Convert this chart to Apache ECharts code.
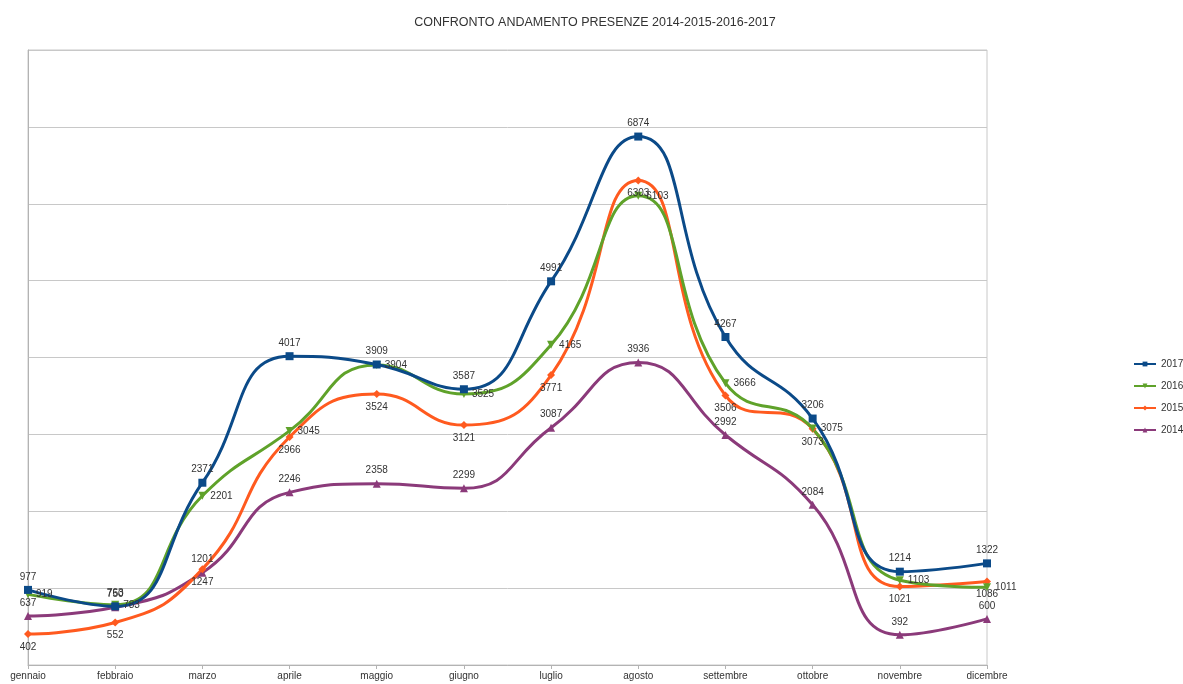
<!DOCTYPE html>
<html>
<head>
<meta charset="utf-8">
<title>Confronto andamento presenze</title>
<script src="https://cdn.jsdelivr.net/npm/echarts@6/dist/echarts.min.js"></script>
<style>
html, body { margin: 0; padding: 0; background: #fff; }
#chart { width: 1183px; height: 684px; }
</style>
</head>
<body>
<div id="chart"></div>
<script>
var mesi = ['gennaio', 'febbraio', 'marzo', 'aprile', 'maggio', 'giugno', 'luglio', 'agosto', 'settembre', 'ottobre', 'novembre', 'dicembre'];

var dati2017 = [977, 763, 2371, 4017, 3909, 3587, 4991, 6874, 4267, 3206, 1214, 1322];
var dati2016 = [919, 783, 2201, 3045, 3904, 3525, 4165, 6103, 3666, 3075, 1103, 1011];
var dati2015 = [402, 552, 1247, 2966, 3524, 3121, 3771, 6303, 3506, 3073, 1021, 1086];
var dati2014 = [637, 750, 1201, 2246, 2358, 2299, 3087, 3936, 2992, 2084, 392, 600];

var anni = ['2017', '2016', '2015', '2014'];

function serie(nome, dati, colore, simbolo, posLabel, rotazione) {
	return {
		name: nome,
		type: 'line',
		data: dati,
		smooth: 0.5,
		symbol: simbolo,
		symbolSize: 8,
		symbolRotate: rotazione || 0,
		lineStyle: { width: 3, color: colore },
		itemStyle: { color: colore },
		label: {
			show: true,
			position: posLabel,
			distance: 4,
			color: '#333',
			fontSize: 10,
			fontFamily: 'Liberation Sans'
		}
	};
}

var option = {
	animation: false,
	backgroundColor: '#fff',
	title: {
		text: 'CONFRONTO ANDAMENTO PRESENZE 2014-2015-2016-2017',
		left: 590,
		textAlign: 'center',
		top: 11,
		textStyle: { fontSize: 12.5, fontWeight: 'normal', color: '#333', fontFamily: 'Liberation Sans' }
	},
	legend: {
		data: anni,
		orient: 'vertical',
		left: 1128,
		top: 354,
		itemGap: 12,
		itemWidth: 22,
		itemHeight: 6,
		textStyle: { fontSize: 10, color: '#333', fontFamily: 'Liberation Sans' }
	},
	grid: {
		left: 28,
		right: 196,
		top: 50,
		bottom: 19,
		show: true,
		borderColor: '#c8c8c8',
		borderWidth: 1
	},
	xAxis: {
		type: 'category',
		data: mesi,
		boundaryGap: false,
		axisLine: { lineStyle: { color: '#b3b3b3' } },
		axisTick: { show: true, length: 4, lineStyle: { color: '#b3b3b3' } },
		axisLabel: { color: '#333', fontSize: 10, margin: 6, fontFamily: 'Liberation Sans' }
	},
	yAxis: {
		type: 'value',
		min: 0,
		max: 8000,
		interval: 1000,
		axisLabel: { show: false },
		axisLine: { show: true, lineStyle: { color: '#b3b3b3' } },
		axisTick: { show: false },
		splitLine: { lineStyle: { color: '#c8c8c8' } }
	},
	series: [
		serie('2014', dati2014, '#8b3a7a', 'triangle', 'top'),
		serie('2015', dati2015, '#ff5a1f', 'diamond', 'bottom'),
		serie('2016', dati2016, '#5fa22a', 'triangle', 'right', 180),
		serie('2017', dati2017, '#0b4a88', 'rect', 'top')
	]
};

var myChart = echarts.init(document.getElementById('chart'));
myChart.setOption(option);
</script>
</body>
</html>
